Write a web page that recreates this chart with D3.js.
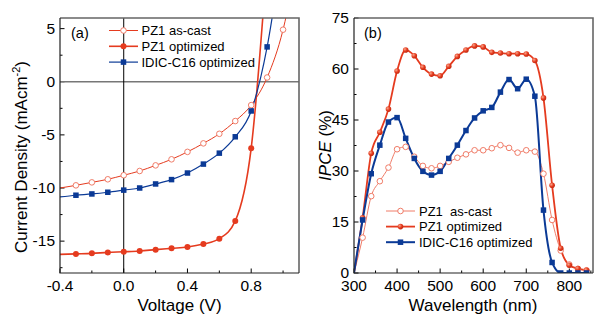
<!DOCTYPE html>
<html>
<head>
<meta charset="utf-8">
<script src="https://cdn.jsdelivr.net/npm/d3@7"></script>
<style>
  body { margin: 0; background: #fff; }
  svg { display: block; font-family: Arial, "Liberation Sans", sans-serif; }
</style>
</head>
<body>
<script>
// ---- J-V curves (panel a) ----
var voltage = [-0.4, -0.3, -0.2, -0.1, 0.0, 0.1, 0.2, 0.3, 0.4, 0.5, 0.6, 0.7, 0.8, 0.9, 1.0, 1.1];
var jAsCast = [-10.0, -9.75, -9.47, -9.18, -8.8, -8.4, -7.87, -7.3, -6.6, -5.8, -4.9, -3.7, -2.2, 0.4, 4.9, 12.5];
var jPZ1Opt = [-16.25, -16.2, -16.15, -16.06, -16.0, -15.93, -15.8, -15.68, -15.56, -15.28, -14.77, -13.1, -6.25, 11.5, null, null];
var jIDIC = [-10.84, -10.68, -10.56, -10.4, -10.2, -10.0, -9.62, -9.21, -8.59, -7.75, -6.72, -5.18, -2.75, 3.28, 13.0, null];

// ---- IPCE spectra (panel b) ----
var wavelength = [300, 320, 340, 360, 380, 400, 420, 440, 460, 480, 500, 520, 540, 560, 580, 600, 620, 640, 660, 680, 700, 720, 740, 760, 780, 800, 820, 840];
var ipceAsCast = [0, 10.4, 22.6, 27.0, 31.0, 36.4, 37.1, 34.2, 31.5, 30.8, 31.5, 32.7, 33.9, 34.9, 36.1, 36.1, 36.7, 37.6, 36.8, 35.4, 36.1, 35.7, 29.2, 15.6, 6.6, 2.5, 1.2, 0.8];
var ipcePZ1Opt = [0, 16.2, 35.2, 41.4, 48.2, 59.4, 65.6, 63.9, 60.5, 58.5, 58.0, 60.8, 63.7, 65.6, 66.8, 66.5, 64.9, 64.7, 64.5, 64.5, 64.4, 62.5, 51.5, 25.8, 7.3, 2.3, 1.3, 0.8];
var ipceIDIC = [0, 15.6, 29.2, 37.6, 44.4, 45.7, 39.6, 33.7, 29.9, 28.8, 29.9, 33.7, 37.6, 41.9, 45.6, 47.7, 48.7, 53.2, 56.9, 54.2, 57.0, 52.0, 18.5, 3.1, 0, 0, 0, 0];

var seriesNames = ["PZ1 as-cast", "PZ1 optimized", "IDIC-C16 optimized"];
var ipceNames = ["PZ1  as-cast", "PZ1 optimized", "IDIC-C16 optimized"];

var red = "#e53b1f", blue = "#0b3a96", salmon = "#f07c68";

var svg = d3.select("body").append("svg").attr("width", 600).attr("height", 322);

var defs = svg.append("defs");
var grad = defs.append("radialGradient").attr("id", "ball").attr("cx", "35%").attr("cy", "35%").attr("r", "65%");
grad.append("stop").attr("offset", "0%").attr("stop-color", "#f9a58a");
grad.append("stop").attr("offset", "60%").attr("stop-color", red);
grad.append("stop").attr("offset", "100%").attr("stop-color", "#c42a10");

function pairs(xs, ys) {
  return xs.map(function (x, i) { return { x: x, y: ys[i] }; }).filter(function (d) { return d.y != null; });
}

// shared frame + ticks for a panel
function panel(x0, x1, y0, y1, xs, ys, xTicks, xMinor, yTicks, yMinor, xFmt, id) {
  var g = svg.append("g");
  defs.append("clipPath").attr("id", id).append("rect")
    .attr("x", x0).attr("y", y0).attr("width", x1 - x0).attr("height", y1 - y0);

  // inward ticks
  xMinor.forEach(function (v) {
    g.append("line").attr("x1", xs(v)).attr("x2", xs(v)).attr("y1", y1).attr("y2", y1 - 2.5).attr("stroke", "#000");
  });
  xTicks.forEach(function (v) {
    g.append("line").attr("x1", xs(v)).attr("x2", xs(v)).attr("y1", y1).attr("y2", y1 - 4.5).attr("stroke", "#000");
    g.append("text").attr("x", xs(v)).attr("y", y1 + 18).attr("text-anchor", "middle")
      .attr("font-size", 15.5).text(xFmt(v));
  });
  yMinor.forEach(function (v) {
    g.append("line").attr("x1", x0).attr("x2", x0 + 2.5).attr("y1", ys(v)).attr("y2", ys(v)).attr("stroke", "#000");
  });
  yTicks.forEach(function (v) {
    g.append("line").attr("x1", x0).attr("x2", x0 + 4.5).attr("y1", ys(v)).attr("y2", ys(v)).attr("stroke", "#000");
    g.append("text").attr("x", x0 - 5).attr("y", ys(v) + 5).attr("text-anchor", "end")
      .attr("font-size", 15.5).text(v);
  });
  return g;
}

function frame(x0, x1, y0, y1) {
  svg.append("path").attr("d", "M" + x0 + "," + y0 + "H" + x1 + "V" + y1)
    .attr("fill", "none").attr("stroke", "#666").attr("stroke-width", 1.6);
  svg.append("path").attr("d", "M" + x0 + "," + y0 + "V" + y1 + "H" + x1)
    .attr("fill", "none").attr("stroke", "#222").attr("stroke-width", 1.2);
}

function marker(g, kind, cx, cy, opts) {
  if (kind === "square") {
    g.append("rect").attr("x", cx - opts.s / 2).attr("y", cy - opts.s / 2)
      .attr("width", opts.s).attr("height", opts.s).attr("fill", opts.color);
  } else if (kind === "open") {
    g.append("circle").attr("cx", cx).attr("cy", cy).attr("r", opts.r)
      .attr("fill", "#fff").attr("stroke", opts.color).attr("stroke-width", 1);
  } else {
    g.append("circle").attr("cx", cx).attr("cy", cy).attr("r", opts.r).attr("fill", opts.fill || opts.color);
  }
}

// ================= panel (a) =================
var ax0 = 60, ax1 = 299, ay0 = 18, ay1 = 273;
var xa = d3.scaleLinear().domain([-0.4, 1.1]).range([ax0, ax1]);
var ya = d3.scaleLinear().domain([-18, 6]).range([ay1, ay0]);

var ga = panel(ax0, ax1, ay0, ay1, xa, ya,
  [-0.4, 0.0, 0.4, 0.8], [-0.2, 0.2, 0.6, 1.0],
  [-15, -10, -5, 0, 5], [-17.5, -12.5, -7.5, -2.5, 2.5],
  function (v) { return v.toFixed(1); }, "clipA");

// reference lines at J = 0 and V = 0
ga.append("line").attr("x1", ax0).attr("x2", ax1).attr("y1", ya(0)).attr("y2", ya(0))
  .attr("stroke", "#777").attr("stroke-width", 1.6);
ga.append("line").attr("x1", xa(0)).attr("x2", xa(0)).attr("y1", ay0).attr("y2", ay1)
  .attr("stroke", "#000").attr("stroke-width", 1);

var lineA = d3.line().x(function (d) { return xa(d.x); }).y(function (d) { return ya(d.y); }).curve(d3.curveMonotoneX);
var plotA = svg.append("g").attr("clip-path", "url(#clipA)");

var jvSeries = [
  { data: pairs(voltage, jAsCast), color: red, mark: salmon, kind: "open", w: 1 },
  { data: pairs(voltage, jPZ1Opt), color: red, mark: red, kind: "fill", w: 1.6 },
  { data: pairs(voltage, jIDIC), color: blue, mark: blue, kind: "square", w: 1.2 }
];
jvSeries.forEach(function (s) {
  plotA.append("path").attr("d", lineA(s.data)).attr("fill", "none")
    .attr("stroke", s.color).attr("stroke-width", s.w);
});
jvSeries.forEach(function (s) {
  s.data.filter(function (d) { return d.x > -0.35 && d.x < 1.05; }).forEach(function (d) {
    marker(plotA, s.kind, xa(d.x), ya(d.y), { r: s.kind === "open" ? 2.8 : 3, s: 5.5, color: s.mark });
  });
});

frame(ax0, ax1, ay0, ay1);

// legend (a)
var legA = svg.append("g").attr("font-size", 13);
jvSeries.forEach(function (s, i) {
  var y = 30.5 + i * 15.8;
  legA.append("line").attr("x1", 109).attr("x2", 138).attr("y1", y).attr("y2", y)
    .attr("stroke", s.color).attr("stroke-width", s.w);
  marker(legA, s.kind, 123.5, y, { r: s.kind === "open" ? 2.8 : 3, s: 5.5, color: s.mark });
  legA.append("text").attr("x", 141.5).attr("y", y + 4.6).text(seriesNames[i]);
});
svg.append("text").attr("x", 71).attr("y", 37.5).attr("font-size", 14.5).text("(a)");

svg.append("text").attr("x", (ax0 + ax1) / 2).attr("y", 311).attr("text-anchor", "middle")
  .attr("font-size", 17).text("Voltage (V)");
var yt = svg.append("text").attr("transform", "translate(27,157) rotate(-90)")
  .attr("text-anchor", "middle").attr("font-size", 17);
yt.append("tspan").text("Current Density (mAcm");
yt.append("tspan").attr("font-size", 11).attr("dy", -7).text("-2");
yt.append("tspan").attr("dy", 7).text(")");

// ================= panel (b) =================
var bx0 = 354, bx1 = 593, by0 = 18, by1 = 273;
var xb = d3.scaleLinear().domain([300, 855]).range([bx0, bx1]);
var yb = d3.scaleLinear().domain([0, 75]).range([by1, by0]);

panel(bx0, bx1, by0, by1, xb, yb,
  [300, 400, 500, 600, 700, 800], [350, 450, 550, 650, 750, 850],
  [0, 15, 30, 45, 60, 75], [7.5, 22.5, 37.5, 52.5, 67.5],
  function (v) { return v; }, "clipB");

var lineB = d3.line().x(function (d) { return xb(d.x); }).y(function (d) { return yb(d.y); }).curve(d3.curveMonotoneX);
var plotB = svg.append("g").attr("clip-path", "url(#clipB)");

var ipceSeries = [
  { data: pairs(wavelength, ipceAsCast), color: salmon, kind: "open", w: 1 },
  { data: pairs(wavelength, ipcePZ1Opt), color: red, kind: "fill", w: 1.8, fill: "url(#ball)" },
  { data: pairs(wavelength, ipceIDIC), color: blue, kind: "square", w: 2 }
];
ipceSeries.forEach(function (s) {
  plotB.append("path").attr("d", lineB(s.data)).attr("fill", "none")
    .attr("stroke", s.color).attr("stroke-width", s.w);
});
ipceSeries.forEach(function (s) {
  s.data.filter(function (d) { return d.x >= 320; }).forEach(function (d) {
    marker(plotB, s.kind, xb(d.x), yb(d.y), { r: 2.8, s: 5.5, color: s.color, fill: s.fill });
  });
});

frame(bx0, bx1, by0, by1);

// legend (b)
var legB = svg.append("g").attr("font-size", 13);
ipceSeries.forEach(function (s, i) {
  var y = 211 + i * 15.6;
  legB.append("line").attr("x1", 386).attr("x2", 415).attr("y1", y).attr("y2", y)
    .attr("stroke", s.color).attr("stroke-width", s.w);
  marker(legB, s.kind, 400.5, y, { r: 2.8, s: 5.5, color: s.color, fill: s.fill });
  legB.append("text").attr("x", 419).attr("y", y + 4.6).style("white-space", "pre").text(ipceNames[i]);
});
svg.append("text").attr("x", 364).attr("y", 37.5).attr("font-size", 14.5).text("(b)");

svg.append("text").attr("x", 473).attr("y", 311).attr("text-anchor", "middle")
  .attr("font-size", 17).text("Wavelength (nm)");
var yb2 = svg.append("text").attr("transform", "translate(331," + ((by0 + by1) / 2) + ") rotate(-90)")
  .attr("text-anchor", "middle").attr("font-size", 17);
yb2.append("tspan").attr("font-style", "italic").text("IPCE");
yb2.append("tspan").text(" (%)");
</script>
</body>
</html>
